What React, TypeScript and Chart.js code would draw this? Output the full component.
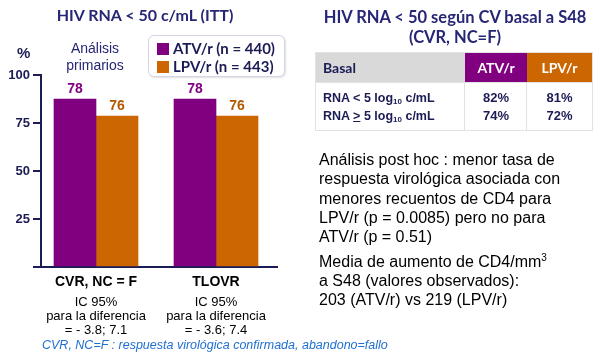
import React, { useEffect, useRef } from "react";
import { Chart, registerables } from "chart.js";

Chart.register(...registerables);

// ---- data ----
const categories = ["CVR, NC = F", "TLOVR"];
const categorySubLines = [
  ["IC 95%", "para la diferencia", "= - 3.8; 7.1"],
  ["IC 95%", "para la diferencia", "= - 3.6; 7.4"],
];
const seriesNames = ["ATV/r (n = 440)", "LPV/r (n = 443)"];
// bar heights as drawn in the picture
const atvBars = [87.5, 87.5];
const lpvBars = [78.6, 78.6];
// value labels printed above the bars
const atvLabels = ["78", "78"];
const lpvLabels = ["76", "76"];
const yTicks = [0, 25, 50, 75, 100];

const tableHead = ["Basal", "ATV/r", "LPV/r"];
const tableRowsLabel = ["<", "\u2265"];
const tableAtv = ["82%", "74%"];
const tableLpv = ["81%", "72%"];

const PURPLE = "#800080";
const ORANGE = "#cc6600";
const NAVY = "#262675";
const NAVY_DARK = "#1b1b55";

const valueLabels = [atvLabels, lpvLabels];
const labelColors = ["#800080", "#b35a00"];

const labelPlugin = {
  id: "valueLabels",
  afterDatasetsDraw(chart: any) {
    const ctx = chart.ctx;
    chart.data.datasets.forEach((_ds: any, di: number) => {
      const meta = chart.getDatasetMeta(di);
      meta.data.forEach((bar: any, i: number) => {
        ctx.save();
        ctx.font = 'bold 14px "Liberation Sans", Arial, sans-serif';
        ctx.fillStyle = labelColors[di];
        ctx.textAlign = "center";
        ctx.textBaseline = "middle";
        ctx.fillText(valueLabels[di][i], bar.x, bar.y - 10);
        ctx.restore();
      });
    });
  },
  afterDraw(chart: any) {
    const ctx = chart.ctx;
    const xs = chart.scales.x;
    const base = chart.chartArea.bottom;
    ctx.save();
    ctx.textAlign = "center";
    ctx.textBaseline = "middle";
    ctx.fillStyle = "#000";
    categories.forEach((c, i) => {
      const x = xs.getPixelForValue(i);
      ctx.font = 'bold 14px "Liberation Sans", Arial, sans-serif';
      ctx.fillText(c, x, base + 15);
      ctx.font = '13px "Liberation Sans", Arial, sans-serif';
      categorySubLines[i].forEach((t, li) => {
        ctx.fillText(t, x, base + 35 + li * 14);
      });
    });
    ctx.restore();
  },
};

function BarChart() {
  const ref = useRef<HTMLCanvasElement>(null);
  useEffect(() => {
    if (!ref.current) return;
    const chart = new Chart(ref.current, {
      type: "bar",
      data: {
        datasets: [
          {
            label: seriesNames[0],
            data: atvBars.map((v, i) => ({ x: i, y: v })),
            backgroundColor: PURPLE,
            barThickness: 42,
          },
          {
            label: seriesNames[1],
            data: lpvBars.map((v, i) => ({ x: i, y: v })),
            backgroundColor: ORANGE,
            barThickness: 42,
          },
        ],
      },
      options: {
        animation: false,
        responsive: false,
        layout: { padding: { left: 0, top: 75, right: 323, bottom: 0 } },
        plugins: { legend: { display: false }, tooltip: { enabled: false } },
        scales: {
          x: {
            type: "linear",
            offset: false,
            bounds: "data",
            min: -0.4583,
            max: 1.5083,
            grid: { display: false },
            border: { display: true, color: NAVY_DARK, width: 2 },
            afterFit: (scale: any) => {
              scale.height = 93;
              scale.paddingLeft = 0;
              scale.paddingRight = 0;
            },
            ticks: { display: false },
          },
          y: {
            min: 0,
            max: 100,
            afterBuildTicks: (scale: any) => {
              scale.ticks = yTicks.map((v) => ({ value: v }));
            },
            afterFit: (scale: any) => {
              scale.width = 41;
            },
            grid: {
              drawOnChartArea: false,
              drawTicks: true,
              tickLength: 8,
              color: NAVY_DARK,
              lineWidth: 2,
            },
            border: { display: true, color: NAVY_DARK, width: 2 },
            ticks: {
              padding: 3,
              color: NAVY_DARK,
              font: { family: '"Liberation Sans", Arial, sans-serif', size: 13, weight: "bold" },
              callback: (v: any) => (Number(v) === 0 ? "" : String(v)),
            },
          },
        },
      },
      plugins: [labelPlugin],
    } as any);
    return () => chart.destroy();
  }, []);
  return (
    <canvas
      ref={ref}
      width={600}
      height={360}
      style={{ position: "absolute", left: 0, top: 0, width: 600, height: 360 }}
    />
  );
}

const abs = (s: React.CSSProperties): React.CSSProperties => ({ position: "absolute", whiteSpace: "nowrap", ...s });
const ARIAL = '"Liberation Sans", Arial, sans-serif';
const LATO = 'Lato, "Open Sans", sans-serif';

export default function App() {
  const cell: React.CSSProperties = { boxSizing: "border-box", position: "absolute" };
  return (
    <div style={{ position: "fixed", left: 0, top: 0, width: 600, height: 360, background: "#fff", overflow: "hidden" }}>
      <BarChart />
      {/* left title */}
      <div style={abs({ left: 45, top: 5, width: 200, textAlign: "center", font: `bold 16px ${LATO}`, lineHeight: "20px", color: NAVY })}>
        HIV RNA &lt; 50 c/mL (ITT)
      </div>
      <div style={abs({ left: 17, top: 44, font: `bold 15px ${ARIAL}`, lineHeight: "18px", color: NAVY_DARK })}>%</div>
      <div style={abs({ left: 45, top: 40, width: 100, textAlign: "center", font: `14px ${ARIAL}`, lineHeight: "17px", color: NAVY })}>
        Análisis
        <br />
        primarios
      </div>
      {/* legend */}
      <div
        style={abs({
          left: 148,
          top: 35,
          width: 137,
          height: 42,
          boxSizing: "border-box",
          border: "1px solid #d4d4e6",
          borderRadius: 6,
          boxShadow: "1px 1px 2px rgba(0,0,0,0.12)",
          background: "#fff",
        })}
      />
      {seriesNames.map((n, i) => (
        <React.Fragment key={n}>
          <div style={abs({ left: 157, top: 43 + i * 18, width: 12, height: 12, background: i === 0 ? PURPLE : ORANGE })} />
          <div style={abs({ left: 173, top: 39 + i * 18, font: `bold 15px ${LATO}`, lineHeight: "18px", color: NAVY_DARK })}>{n}</div>
        </React.Fragment>
      ))}
      {/* footnote */}
      <div style={abs({ left: 42, top: 337, font: `italic 12.5px ${ARIAL}`, lineHeight: "16px", color: "#1f6fd0" })}>
        CVR, NC=F : respuesta virológica confirmada, abandono=fallo
      </div>
      {/* right title */}
      <div style={abs({ left: 305, top: 7, width: 300, textAlign: "center", font: `bold 16.5px ${LATO}`, lineHeight: "20px", color: NAVY })}>
        HIV RNA &lt; 50 según CV basal a S48
        <br />
        (CVR, NC=F)
      </div>
      {/* table */}
      <div style={abs({ left: 316, top: 53, width: 276, height: 77, boxShadow: "0 0 0 1px #e2e2e2" })}>
        <div style={{ ...cell, left: 0, top: 0, width: 149, height: 29, background: "#d9d9d9", font: `bold 14px ${LATO}`, color: NAVY_DARK, lineHeight: "29px", paddingLeft: 7 }}>
          {tableHead[0]}
        </div>
        <div style={{ ...cell, left: 149, top: 0, width: 62, height: 29, background: PURPLE, font: `bold 14px ${LATO}`, color: "#fff", lineHeight: "29px", textAlign: "center" }}>
          {tableHead[1]}
        </div>
        <div style={{ ...cell, left: 211, top: 0, width: 65, height: 29, background: ORANGE, font: `bold 14px ${LATO}`, color: "#fff", lineHeight: "29px", textAlign: "center" }}>
          {tableHead[2]}
        </div>
        <div style={{ ...cell, left: 0, top: 29, width: 149, height: 48, borderRight: "1px solid #e2e2e2", borderTop: "1px solid #e2e2e2" }} />
        <div style={{ ...cell, left: 149, top: 29, width: 62, height: 48, borderRight: "1px solid #e2e2e2", borderTop: "1px solid #e2e2e2" }} />
        <div style={{ ...cell, left: 211, top: 29, width: 65, height: 48, borderTop: "1px solid #e2e2e2" }} />
        {tableRowsLabel.map((op, r) => (
          <React.Fragment key={r}>
            <div style={{ ...cell, left: 7, top: 36 + r * 18, font: `bold 12.5px ${ARIAL}`, lineHeight: "18px", color: NAVY_DARK, whiteSpace: "nowrap" }}>
              RNA {op === "\u2265" ? <span style={{ textDecoration: "underline" }}>&gt;</span> : "<"} 5 log<sub style={{ fontSize: 8, verticalAlign: "-2px" }}>10</sub> c/mL
            </div>
            <div style={{ ...cell, left: 149, top: 36 + r * 18, width: 62, textAlign: "center", font: `bold 13px ${ARIAL}`, lineHeight: "18px", color: NAVY_DARK }}>
              {tableAtv[r]}
            </div>
            <div style={{ ...cell, left: 211, top: 36 + r * 18, width: 65, textAlign: "center", font: `bold 13px ${ARIAL}`, lineHeight: "18px", color: NAVY_DARK }}>
              {tableLpv[r]}
            </div>
          </React.Fragment>
        ))}
      </div>
      {/* paragraphs */}
      <div style={abs({ left: 319, top: 150, font: `16px ${ARIAL}`, lineHeight: "19.3px", color: "#000" })}>
        Análisis post hoc : menor tasa de
        <br />
        respuesta virológica asociada con
        <br />
        menores recuentos de CD4 para
        <br />
        LPV/r (p = 0.0085) pero no para
        <br />
        ATV/r (p = 0.51)
      </div>
      <div style={abs({ left: 319, top: 252, font: `16px ${ARIAL}`, lineHeight: "19px", color: "#000" })}>
        Media de aumento de CD4/mm<sup style={{ fontSize: 10, verticalAlign: "6px", lineHeight: 0 }}>3</sup>
        <br />
        a S48 (valores observados):
        <br />
        203 (ATV/r) vs 219 (LPV/r)
      </div>
    </div>
  );
}
